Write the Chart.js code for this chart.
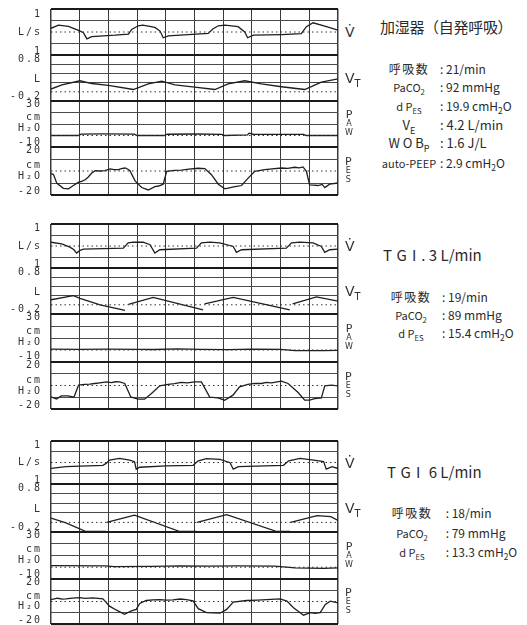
<!DOCTYPE html>
<html lang="ja">
<head>
<meta charset="UTF-8">
<title>加湿器・TGI 呼吸波形</title>
<script src="https://cdn.jsdelivr.net/npm/chart.js"></script>
<style>
  body { margin: 0; background: #fff; }
  #page { position: relative; width: 527px; height: 625px; overflow: hidden;
          font-family: "Noto Sans CJK JP", "Noto Sans", sans-serif; color: #2a2a2a; }
  canvas.strip { position: absolute; left: 0; }
  .sym { position: absolute; left: 345px; transform: translateY(-50%); font-family: "DejaVu Sans", sans-serif;
         color: #333; line-height: 1; text-align: center; }
  .sym.big { font-size: 14px; }
  .sym.stk { font-size: 11px; line-height: 8px; }
  .sym.stk small { font-size: 8px; }
  .title { position: absolute; white-space: nowrap; line-height: 18px; }
  .row { position: absolute; white-space: nowrap; line-height: 16px; font-size: 12px; }
  .row .k { display: inline-block; width: 62px; text-align: center; font-size: 11px; }
  .row .k.jp { font-size: 12px; letter-spacing: 1.5px; }
  .sp { letter-spacing: 5px; }
  sub { font-size: 0.7em; line-height: 0; }
</style>
</head>
<body>
<div id="page">
  <div class="title" style="left:380px;top:18px;font-size:15px;letter-spacing:-0.3px">加湿器（自発呼吸）</div>
  <div class="row" style="left:378px;top:61px"><span class="k jp">呼吸数</span><span>: 21/min</span></div>
  <div class="row" style="left:378px;top:79px"><span class="k">PaCO<sub>2</sub></span><span>: 92 mmHg</span></div>
  <div class="row" style="left:378px;top:98px"><span class="k">d P<sub>ES</sub></span><span>: 19.9 cmH<sub>2</sub>O</span></div>
  <div class="row" style="left:378px;top:117px;font-size:13px"><span class="k" style="font-size:13px">V<sub>E</sub></span><span>: 4.2 L/min</span></div>
  <div class="row" style="left:378px;top:135px;font-size:13px"><span class="k" style="font-size:13px">W O B<sub>P</sub></span><span>: 1.6 J/L</span></div>
  <div class="row" style="left:378px;top:155px"><span class="k">auto-PEEP</span><span>: 2.9 cmH<sub>2</sub>O</span></div>

  <div class="title" style="left:383px;top:246px;font-size:15px"><span class="sp">TGI</span>. 3 L/min</div>
  <div class="row" style="left:380px;top:289px"><span class="k jp">呼吸数</span><span>: 19/min</span></div>
  <div class="row" style="left:380px;top:307px"><span class="k">PaCO<sub>2</sub></span><span>: 89 mmHg</span></div>
  <div class="row" style="left:380px;top:325px"><span class="k">d P<sub>ES</sub></span><span>: 15.4 cmH<sub>2</sub>O</span></div>

  <div class="title" style="left:387px;top:463px;font-size:15px"><span class="sp">TGI</span>&nbsp;6 L/min</div>
  <div class="row" style="left:381px;top:505px"><span class="k jp">呼吸数</span><span>&nbsp;: 18/min</span></div>
  <div class="row" style="left:381px;top:525px"><span class="k">PaCO<sub>2</sub></span><span>&nbsp;: 79 mmHg</span></div>
  <div class="row" style="left:381px;top:544px"><span class="k">d P<sub>ES</sub></span><span>&nbsp;: 13.3 cmH<sub>2</sub>O</span></div>
</div>

<script>
// time axis: 0-10 divisions; each series is [t, value], null = pen lifted
const p1Flow = [[0,0.16],[0.26,0.3],[0.61,0.24],[0.96,0.07],[1.13,-0.03],[1.25,-0.3],[1.42,-0.2],[2.23,-0.14],[2.7,-0.09],[2.81,0.11],[3.04,0.27],[3.2,0.3],[3.62,0.2],[3.8,0.04],[3.91,-0.25],[4.09,-0.17],[4.78,-0.11],[5.48,-0.06],[5.65,0.14],[5.83,0.27],[6.06,0.3],[6.52,0.23],[6.75,0],[6.85,-0.25],[7.05,-0.14],[8.03,-0.11],[8.72,-0.07],[8.9,0.23],[9.13,0.4],[9.54,0.26],[10,0.08]];
const p1Vol = [[0,0.06],[0.38,0.15],[1.01,0.24],[1.42,0.18],[2.0,0.14],[2.87,0.05],[3.39,0.17],[3.86,0.23],[4.32,0.15],[5.01,0.1],[5.71,0.05],[6.17,0.17],[6.75,0.24],[7.33,0.17],[8.03,0.11],[8.84,0.05],[9.42,0.21],[10,0.28]];
const p1Paw = [[0,0],[0.95,0],[1.05,1.2],[1.8,1.4],[2.9,1.2],[3.0,0],[3.95,0],[4.05,1.1],[5.0,1.3],[5.95,1.0],[6.05,0],[6.85,0.5],[6.9,2.0],[7.05,1.1],[8.8,1.0],[8.9,0],[10,0]];
const p1Pes = [[0,-2],[0.09,-3.1],[0.2,-10.1],[0.43,-14.4],[0.61,-14.9],[0.78,-12.1],[0.96,-9.3],[1.07,-8.7],[1.19,-7.3],[1.3,-5],[1.42,-1.7],[1.54,0.3],[1.7,0],[1.88,0.3],[2.06,1.7],[2.2,1.2],[2.35,1.1],[2.45,2],[2.58,2.5],[2.68,1.5],[2.75,0.3],[2.93,-8.2],[3.16,-13.8],[3.39,-15.8],[3.62,-13],[3.75,-12.5],[3.91,-11],[4.03,-0.3],[4.3,0.5],[4.55,0.8],[4.8,1.5],[5.13,2.3],[5.36,2],[5.59,-3.1],[5.83,-11],[6.06,-14.9],[6.25,-13.8],[6.41,-13],[6.64,-12.1],[6.87,-5.9],[7.1,-0.3],[7.45,1.1],[7.7,1.8],[8.03,2.5],[8.25,2.2],[8.49,3.1],[8.65,2.6],[8.78,3.4],[8.9,-0.3],[9.01,-11.5],[9.15,-11.8],[9.3,-12.1],[9.45,-11.2],[9.54,-13.8],[9.71,-11],[10,-10]];

const p2Flow = [[0,0.17],[0.37,0.1],[0.66,-0.05],[0.8,-0.17],[0.89,-0.32],[1.01,-0.2],[1.13,-0.14],[2.52,-0.1],[2.69,0.14],[2.87,0.18],[3.21,0.17],[3.45,0.06],[3.62,-0.32],[3.79,-0.17],[5.07,-0.1],[5.24,0.14],[5.53,0.18],[5.88,0.14],[6.35,-0.02],[6.46,-0.29],[6.64,-0.17],[8.2,-0.1],[8.38,0.14],[8.67,0.18],[9.13,0.14],[9.42,-0.02],[9.54,-0.29],[9.71,-0.17],[10,-0.14]];
const p2Vol = [[0,0.11],[0.78,0.2],[1.01,0.14],[1.71,0.0],[2.58,-0.12],[2.6,null],[2.7,0.01],[3.56,0.16],[5.3,-0.11],[5.31,null],[5.35,0.02],[6.35,0.16],[8.32,-0.11],[8.33,null],[8.42,0.02],[9.25,0.17],[10,0.08]];
const p2Paw = [[0,0.7],[1.0,0.5],[2.0,0.8],[3.0,0.6],[3.6,0.4],[4.4,1.0],[5.2,0.6],[6.2,0.3],[7.0,0.8],[8.0,0.6],[8.5,-0.5],[9.5,-0.6],[10,-0.3]];
const p2Pes = [[0,-9.7],[0.19,-11.6],[0.36,-8.8],[0.59,-8.8],[0.8,-9.9],[0.96,0.3],[1.17,0.9],[1.35,1.2],[1.52,1.7],[1.7,2.3],[1.93,3.1],[2.1,2.5],[2.25,3.2],[2.39,3.1],[2.57,1.7],[2.78,-9.7],[3.03,-11.6],[3.26,-11.6],[3.5,-6.8],[3.79,-0.3],[4.08,0.9],[4.3,1.6],[4.54,2.6],[4.75,2.2],[5.01,3.1],[5.24,3.1],[5.53,-9.9],[5.82,-10.5],[6.05,-12.5],[6.34,-8.2],[6.57,-1.1],[6.86,0.9],[7.1,1.8],[7.33,1.7],[7.5,2.6],[7.68,2.3],[8.03,3.7],[8.26,1.7],[8.61,-6],[8.84,-12.5],[9.01,-12.5],[9.19,-11.1],[9.42,-10.5],[9.54,-0.3],[9.77,0.3],[10,-0.3]];

const p3Flow = [[0,-0.27],[0.52,-0.19],[1.81,-0.13],[1.92,-0.04],[2.04,0.11],[2.39,0.19],[2.74,0.11],[2.91,0.04],[2.97,-0.31],[3.09,-0.22],[4.02,-0.16],[4.95,-0.13],[5.13,0.08],[5.42,0.18],[5.89,0.15],[6.24,-0.01],[6.35,-0.31],[6.53,-0.19],[8.1,-0.13],[8.28,0.08],[8.68,0.19],[9.15,0.11],[9.5,0.04],[9.59,-0.31],[9.79,-0.19],[10,-0.28]];
const p3Vol = [[0,0.09],[0.52,-0.01],[1.22,-0.19],[1.92,-0.19],[1.93,null],[1.94,0.0],[2.91,0.15],[4.49,-0.19],[5.07,-0.19],[5.08,null],[5.09,0.0],[6.12,0.16],[7.87,-0.19],[8.33,-0.19],[8.34,null],[8.35,0.0],[9.27,0.14],[9.75,0.12],[10,0.04]];
const p3Paw = [[0,1.4],[1.9,1.2],[2.2,0.6],[3.5,0.8],[4.5,1.2],[5.5,1.0],[6.5,1.2],[7.8,1.0],[8.5,-0.6],[9.5,-0.9],[10,-0.5]];
const p3Pes = [[0,1.7],[0.23,2.9],[0.4,2.2],[0.52,2.3],[0.75,3],[1.0,3.5],[1.2,2.8],[1.46,3.2],[1.81,2.3],[2.04,-4.1],[2.27,-7.5],[2.56,-11.3],[2.8,-8.4],[2.97,-7],[3.09,-1.7],[3.32,0.9],[3.55,1.5],[3.79,1.7],[4.0,1.2],[4.25,1.4],[4.5,2.2],[4.72,1.7],[4.95,0.6],[5.13,-6.4],[5.42,-9.9],[5.89,-10.4],[6.12,-7],[6.35,-0.6],[6.82,0.9],[7.2,1.3],[7.52,1.7],[7.98,2.3],[8.22,0.3],[8.45,-5.5],[8.8,-12.2],[9.03,-9.9],[9.2,-10.5],[9.38,-9.9],[9.56,-2.6],[9.73,0.3],[10,-1.2]];

// solid horizontal rulings per strip; first and last are the strip limits, zero is the dotted baseline
const flowGrid = [-1, -0.5, 0.5, 1];
const volGrid = [-0.2, 0.2, 0.4, 0.6, 0.8];
const pawGrid = [-10, 10, 20, 30];
const pesGrid = [-20, -10, 10, 20];
const baseline = [[0, 0], [10, 0]];

// left-hand labels (value where the label sits, and its text)
const flowLabelVals = [0.78, 0, -0.83];
const flowLabels = ['1', 'L/s', '1'];
const volLabelVals = [0.71, 0.28, -0.1];
const volLabels = ['0.8', 'L', '-0.2'];
const pawLabelVals = [27.4, 15.5, 6.0, -5.7];
const pawLabels = ['30', 'cm', 'H₂O', '-10'];
const pesLabelVals = [17, 4.4, -4.8, -16.6];
const pesLabels = ['20', 'cm', 'H₂O', '-20'];

const STRIPS = [
  { grid: flowGrid, vals: flowLabelVals, text: flowLabels, sym: 'V̇', cls: 'big' },
  { grid: volGrid, vals: volLabelVals, text: volLabels, sym: 'V<sub>T</sub>', cls: 'big' },
  { grid: pawGrid, vals: pawLabelVals, text: pawLabels, sym: 'P<br><small>A</small><br><small>W</small>', cls: 'stk' },
  { grid: pesGrid, vals: pesLabelVals, text: pesLabels, sym: 'P<br><small>E</small><br><small>S</small>', cls: 'stk' }
];

const panelEdges = [[9, 55, 101, 147, 195], [224, 268, 314, 362, 409], [441, 484, 532, 579, 624]];
const panelData = [[p1Flow, p1Vol, p1Paw, p1Pes], [p2Flow, p2Vol, p2Paw, p2Pes], [p3Flow, p3Vol, p3Paw, p3Pes]];
const PAD = 3;

const spacing = { id: 'spacing', beforeDraw(chart) { chart.ctx.letterSpacing = '2px'; } };
const noPad = sc => { sc.paddingTop = 0; sc.paddingBottom = 0; sc.paddingLeft = 0; sc.paddingRight = 0; };

function makeStrip(edges, k, data) {
  const s = STRIPS[k];
  const n = s.grid.length;
  const min = s.grid[0], max = s.grid[n - 1];
  const top = edges[k], h = edges[k + 1] - top;
  const page = document.getElementById('page');

  const cv = document.createElement('canvas');
  cv.className = 'strip';
  cv.width = 342;
  cv.height = h + 2 * PAD;
  cv.style.top = (top - PAD) + 'px';
  page.appendChild(cv);

  const sym = document.createElement('div');
  sym.className = 'sym ' + s.cls;
  sym.style.top = (top + h / 2) + 'px';
  sym.innerHTML = s.sym;
  page.appendChild(sym);

  const isEdge = c => c.index === 0 || c.index === n - 1;

  new Chart(cv, {
    type: 'line',
    data: {
      datasets: [{
        data: baseline.map(([x, y]) => ({ x, y })),
        borderColor: '#333',
        borderWidth: 1,
        borderDash: [1.5, 3],
        pointRadius: 0,
        yAxisID: 'y'
      }, {
        data: data.map(([x, y]) => ({ x, y })),
        borderColor: '#1e1e1e',
        borderWidth: 1.3,
        pointRadius: 0,
        tension: 0,
        spanGaps: false,
        yAxisID: 'y'
      }]
    },
    options: {
      responsive: false,
      animation: false,
      events: [],
      layout: { padding: { top: PAD, bottom: PAD, left: 0, right: 4 } },
      plugins: { legend: { display: false }, tooltip: { enabled: false } },
      scales: {
        x: {
          type: 'linear', min: 0, max: 10,
          ticks: { display: false, stepSize: 1 },
          grid: { color: '#3a3a3a', lineWidth: c => (c.index === 0 || c.index === 10) ? 1.5 : 1, drawTicks: false },
          border: { display: false },
          afterFit: sc => { sc.height = 0; noPad(sc); }
        },
        y: {
          position: 'left', min, max,
          ticks: { display: false },
          afterBuildTicks: sc => { sc.ticks = s.grid.map(v => ({ value: v })); },
          grid: {
            color: c => isEdge(c) ? '#1a1a1a' : '#4a4a4a',
            lineWidth: c => isEdge(c) ? 2 : 1,
            drawTicks: false
          },
          border: { display: false },
          afterFit: sc => { sc.width = 0; noPad(sc); }
        },
        yl: {
          position: 'left', min, max,
          grid: { display: false },
          border: { display: false },
          afterBuildTicks: sc => { sc.ticks = s.vals.map(v => ({ value: v })); },
          ticks: {
            autoSkip: false, padding: 1, color: '#333',
            font: { family: '"DejaVu Sans Mono", monospace', size: 10 },
            callback: (v, i) => s.text[i]
          },
          afterFit: sc => { sc.width = 51; noPad(sc); }
        }
      }
    },
    plugins: [spacing]
  });
}

panelEdges.forEach((edges, p) => {
  for (let k = 0; k < 4; k++) makeStrip(edges, k, panelData[p][k]);
});
</script>
</body>
</html>
